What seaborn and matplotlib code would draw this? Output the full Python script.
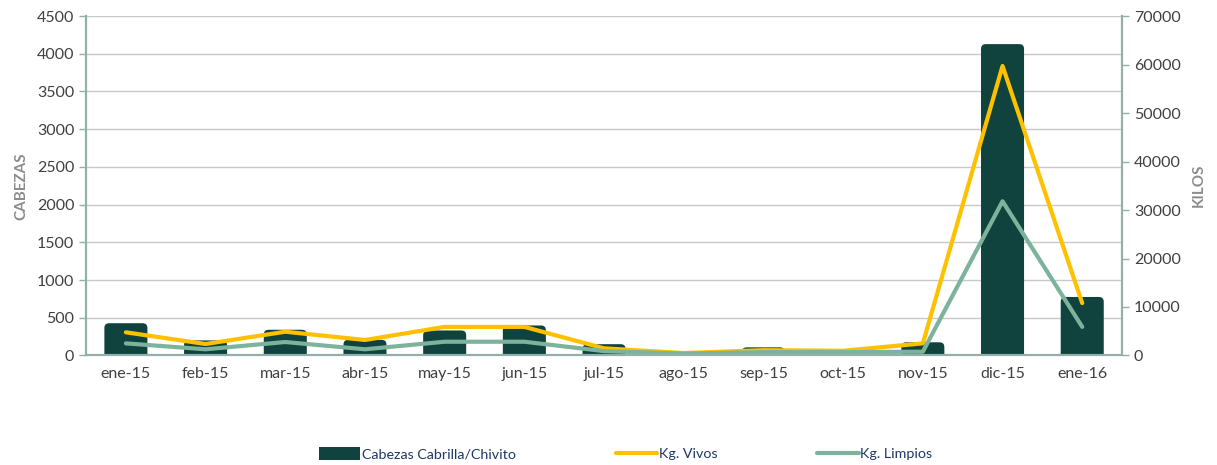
import numpy as np
import pandas as pd
import seaborn as sns
import matplotlib.pyplot as plt
from matplotlib.patches import FancyBboxPatch
from matplotlib.lines import Line2D
from matplotlib.patches import Patch

months = ["ene-15", "feb-15", "mar-15", "abr-15", "may-15", "jun-15", "jul-15",
          "ago-15", "sep-15", "oct-15", "nov-15", "dic-15", "ene-16"]
cabezas = [428, 200, 341, 208, 332, 398, 150, 0, 108, 85, 175, 4128, 776]
kg_vivos = [4780, 2370, 4900, 3200, 5900, 5900, 1480, 500, 1100, 980, 2500, 59700, 10800]
kg_limpios = [2500, 1280, 2780, 1280, 2840, 2840, 900, 400, 700, 700, 780, 31800, 5900]

bar_color = "#10433d"
yellow = "#ffc000"
green = "#7db39c"
spine_color = "#8fb1a9"
tick_color = "#404040"
label_color = "#8c8c8c"

sns.set_style("white")
plt.rcParams["font.family"] = ["Lato", "DejaVu Sans"]

df = pd.DataFrame({"mes": months, "cabezas": cabezas,
                   "vivos": kg_vivos, "limpios": kg_limpios})
df["pos"] = np.arange(len(df))

fig = plt.figure(figsize=(12.17, 4.65), dpi=100)
ax = fig.add_axes([0.0707, 0.2355, 0.8513, 0.73])

sns.barplot(data=df, x="mes", y="cabezas", color=bar_color, width=0.54,
            saturation=1, ax=ax, zorder=2)

ax.set_ylim(0, 4500)
ax.set_xlim(-0.5, len(months) - 0.5)

# rounded bar corners (bottom corners pushed below the axis and clipped)
bbox = ax.get_window_extent()
aspect = (4500 / bbox.height) / (len(months) / bbox.width)
rad = 0.06
for p in list(ax.patches):
    x, y = p.get_x(), p.get_y()
    w, h = p.get_width(), p.get_height()
    p.remove()
    if h <= 0:
        continue
    off = rad * aspect
    r = FancyBboxPatch((x, y - off), w, h + off,
                       boxstyle=f"round,pad=0,rounding_size={rad}",
                       mutation_aspect=aspect,
                       facecolor=bar_color, edgecolor="none", zorder=2)
    ax.add_patch(r)

ax.set_yticks(range(0, 4501, 500))
ax.yaxis.grid(True, color="#c8c8c8", linewidth=1)
ax.set_axisbelow(True)
ax.set_xlabel("")
ax.set_ylabel("CABEZAS", color=label_color, fontsize=11, fontweight="bold", labelpad=6)

ax2 = ax.twinx()
sns.lineplot(data=df, x="pos", y="vivos", color=yellow, linewidth=3, ax=ax2)
sns.lineplot(data=df, x="pos", y="limpios", color=green, linewidth=3, ax=ax2)
ax2.set_ylim(0, 70000)
ax2.set_yticks(range(0, 70001, 10000))
ax2.set_xlim(-0.5, len(months) - 0.5)
ax2.set_xlabel("")
ax2.set_ylabel("KILOS", color=label_color, fontsize=11, fontweight="bold", labelpad=8)

for a in (ax, ax2):
    a.spines["top"].set_visible(False)
    for s in ["left", "right", "bottom"]:
        a.spines[s].set_color(spine_color)
        a.spines[s].set_linewidth(1.5)
    a.tick_params(axis="y", labelcolor=tick_color, color=spine_color, labelsize=11.5,
                  length=5, width=1, direction="out", left=(a is ax), right=(a is ax2))

ax.set_xticks(np.arange(len(months)))
ax.set_xticklabels(months)
ax.tick_params(axis="x", which="major", length=0, labelsize=11.5, labelcolor=tick_color, pad=8)
ax.set_xticks(np.arange(len(months) + 1) - 0.5, minor=True)
ax.tick_params(axis="x", which="minor", length=5, color=spine_color, direction="out")

handles = [Patch(facecolor=bar_color, edgecolor="none"),
           Line2D([], [], color=yellow, linewidth=3),
           Line2D([], [], color=green, linewidth=3)]
labels = ["Cabezas Cabrilla/Chivito", "Kg. Vivos", "Kg. Limpios"]
leg = fig.legend(handles, labels, loc="lower center", ncol=3, frameon=False,
                 bbox_to_anchor=(0.514, -0.018), columnspacing=7.0, handletextpad=0.1,
                 handlelength=2.9, handleheight=1.0, fontsize=10.3)
for t in leg.get_texts():
    t.set_color("#1f3864")

fig.savefig("out.png", dpi=100)
